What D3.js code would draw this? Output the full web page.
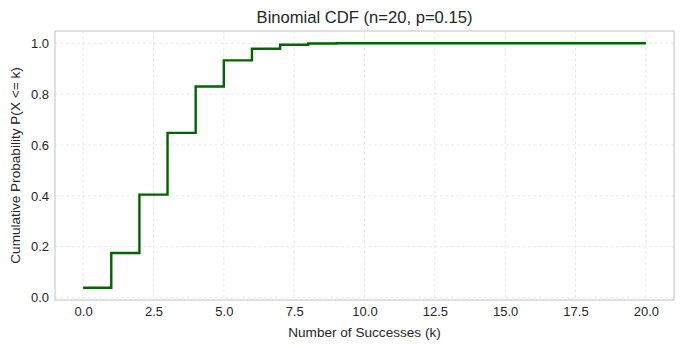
<!DOCTYPE html>
<html>
<head>
<meta charset="utf-8">
<script src="https://cdn.jsdelivr.net/npm/d3@7"></script>
<style>
  body { margin: 0; background: #fff; }
  svg { display: block; font-family: "Liberation Sans", Arial, sans-serif; }
</style>
</head>
<body>
<svg id="chart"></svg>
<script>
// k values and cumulative probabilities for the step line
var successes = [0,1,2,3,4,5,6,7,8,9,10,11,12,13,14,15,16,17,18,19,20];
var cdfValues = [0.0388,0.1756,0.4049,0.6477,0.8298,0.9327,0.9781,0.9941,0.9987,0.9998,
                 1.0,1.0,1.0,1.0,1.0,1.0,1.0,1.0,1.0,1.0,1.0];
var xTicks = [0,2.5,5,7.5,10,12.5,15,17.5,20];
var yTicks = [0,0.2,0.4,0.6,0.8,1.0];

var screen={width:683,height:348}
var margins={top:31,bottom:48,left:55,right:9}

var svg=d3.select("#chart")
    .attr("width",screen.width)
    .attr("height",screen.height)

var xScale=d3.scaleLinear()
    .domain([-1,21])
    .range([margins.left,screen.width-margins.right])
var yScale=d3.scaleLinear()
    .domain([-0.0093,1.048])
    .range([screen.height-margins.bottom,margins.top])

var plotW=screen.width-margins.right-margins.left
var plotH=screen.height-margins.bottom-margins.top

//grid lines
svg.append("g")
    .selectAll("line")
    .data(xTicks)
    .enter()
    .append("line")
    .attr("x1",function(d){return xScale(d)})
    .attr("x2",function(d){return xScale(d)})
    .attr("y1",margins.top)
    .attr("y2",margins.top+plotH)
    .attr("stroke","#e3e3e3")
    .attr("stroke-width",0.8)
    .attr("stroke-dasharray","3,2.5")
svg.append("g")
    .selectAll("line")
    .data(yTicks)
    .enter()
    .append("line")
    .attr("y1",function(d){return yScale(d)})
    .attr("y2",function(d){return yScale(d)})
    .attr("x1",margins.left)
    .attr("x2",margins.left+plotW)
    .attr("stroke","#e3e3e3")
    .attr("stroke-width",0.8)
    .attr("stroke-dasharray","3,2.5")

//frame
svg.append("rect")
    .attr("x",margins.left)
    .attr("y",margins.top)
    .attr("width",plotW)
    .attr("height",plotH)
    .attr("fill","none")
    .attr("stroke","#cccccc")
    .attr("stroke-width",1.2)

//axes, labels only
var xAxis=svg.append("g")
    .attr("transform","translate(0,"+(margins.top+plotH)+")")
    .call(d3.axisBottom(xScale).tickValues(xTicks).tickFormat(d3.format(".1f")).tickSize(0).tickPadding(7))
var yAxis=svg.append("g")
    .attr("transform","translate("+margins.left+",0)")
    .call(d3.axisLeft(yScale).tickValues(yTicks).tickFormat(d3.format(".1f")).tickSize(0).tickPadding(6))
svg.selectAll(".domain").remove()
svg.selectAll(".tick text")
    .attr("font-size",13)
    .attr("fill","#262626")
    .attr("font-family","Liberation Sans, Arial, sans-serif")

//step line, post style
var line=d3.line()
    .x(function(d){return xScale(d[0])})
    .y(function(d){return yScale(d[1])})
    .curve(d3.curveStepAfter)
svg.append("path")
    .datum(successes.map(function(k,i){return [k,cdfValues[i]]}))
    .attr("d",line)
    .attr("fill","none")
    .attr("stroke","#006400")
    .attr("stroke-width",2.4)

//title and axis labels
svg.append("text")
    .attr("x",margins.left+plotW/2)
    .attr("y",23)
    .attr("text-anchor","middle")
    .attr("font-size",16.6)
    .attr("fill","#262626")
    .text("Binomial CDF (n=20, p=0.15)")
svg.append("text")
    .attr("x",margins.left+plotW/2)
    .attr("y",337)
    .attr("text-anchor","middle")
    .attr("font-size",13.6)
    .attr("fill","#262626")
    .text("Number of Successes (k)")
svg.append("text")
    .attr("transform","translate(20,"+(margins.top+plotH/2)+") rotate(-90)")
    .attr("text-anchor","middle")
    .attr("font-size",13.6)
    .attr("fill","#262626")
    .text("Cumulative Probability P(X <= k)")
</script>
</body>
</html>
